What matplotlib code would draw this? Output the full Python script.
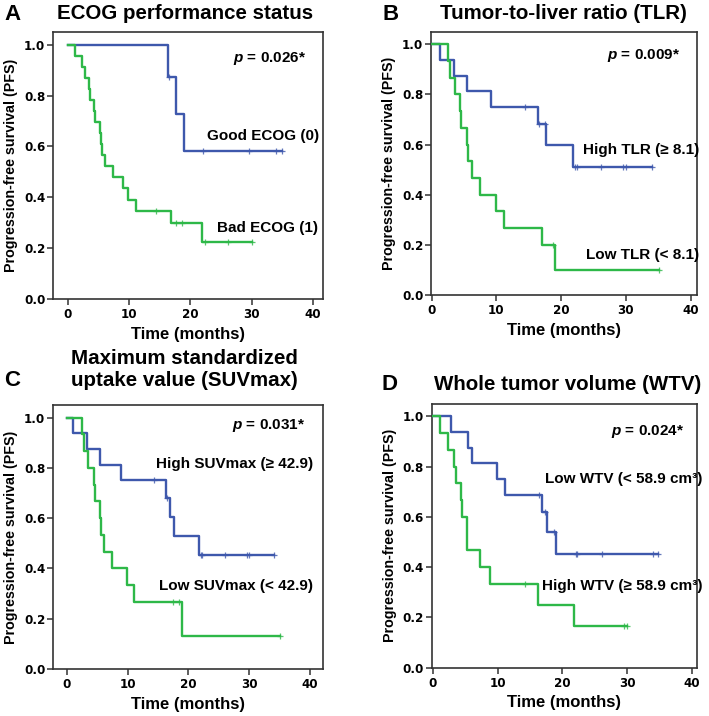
import matplotlib
matplotlib.use("Agg")
import matplotlib.pyplot as plt
import numpy as np

plt.rcParams['font.family'] = ['Liberation Sans', 'DejaVu Sans']
plt.rcParams['font.weight'] = 'bold'
plt.rcParams['mathtext.fontset'] = 'custom'
plt.rcParams['mathtext.bfit'] = 'Liberation Sans:bold:italic'

BLUE = '#3E58AC'
GREEN = '#2EB848'

# --- A: ECOG performance status ---
a_good_t = [16.4, 17.6, 19.0]
a_good_s = [0.875, 0.729, 0.583]
a_good_c = [16.5, 22.0, 29.6, 34.0, 34.85]
a_bad_t = [1.2, 2.4, 2.8, 3.4, 3.6, 4.35, 4.5, 5.26, 5.37, 5.53, 6.07, 7.43, 9.06, 9.77, 11.1, 16.9, 21.8]
a_bad_s = [0.957, 0.913, 0.870, 0.826, 0.783, 0.739, 0.696, 0.652, 0.609, 0.565,
           0.522, 0.478, 0.435, 0.391, 0.348, 0.298, 0.224]
a_bad_c = [14.4, 17.6, 18.6, 22.4, 26.1, 30.1]

# --- B: Tumor-to-liver ratio ---
b_high_t = [1.3, 3.5, 5.4, 9.1, 16.5, 17.65, 21.9]
b_high_s = [0.9375, 0.875, 0.8125, 0.75, 0.682, 0.597, 0.512]
b_high_c = [14.4, 16.6, 17.5, 22.2, 22.4, 26.1, 29.6, 30.0, 34.0]
b_low_t = [2.5, 2.9, 3.6, 4.4, 4.5, 5.4, 5.6, 6.2, 7.5, 9.9, 11.2, 17.0, 19.0]
b_low_s = [0.933, 0.867, 0.8, 0.733, 0.667, 0.6, 0.533, 0.467, 0.4, 0.333, 0.267, 0.2, 0.1]
b_low_c = [18.7, 35.1]

# --- C: SUVmax ---
c_high_t = [1.1, 3.4, 5.4, 9.0, 16.3, 17.0, 17.6, 21.8]
c_high_s = [0.9375, 0.875, 0.8125, 0.75, 0.682, 0.606, 0.530, 0.455]
c_high_c = [14.35, 16.5, 22.0, 22.25, 26.0, 29.6, 30.0, 34.1]
c_low_t = [2.5, 2.9, 3.55, 4.5, 4.65, 5.4, 5.6, 6.2, 7.4, 9.9, 11.1, 18.9]
c_low_s = [0.933, 0.867, 0.8, 0.733, 0.667, 0.6, 0.533, 0.467, 0.4, 0.333, 0.267, 0.133]
c_low_c = [17.5, 18.5, 35.0]

# --- D: Whole tumor volume ---
d_low_t = [2.8, 5.5, 6.0, 9.9, 11.2, 16.8, 17.6, 19.0]
d_low_s = [0.9375, 0.875, 0.8125, 0.75, 0.6875, 0.619, 0.541, 0.451]
d_low_c = [16.45, 17.3, 18.7, 22.05, 22.3, 26.1, 33.9, 34.8]
d_high_t = [1.2, 2.4, 3.3, 3.55, 4.35, 4.5, 5.25, 7.3, 8.9, 16.3, 21.8]
d_high_s = [0.933, 0.867, 0.8, 0.733, 0.667, 0.6, 0.467, 0.4, 0.333, 0.25, 0.167]
d_high_c = [14.3, 29.55, 29.9]


def km(ax, t, s, c, color):
    t = np.asarray(t); s = np.asarray(s); c = np.asarray(c)
    end = max(t.max(), c.max() if len(c) else 0)
    x = np.concatenate([[0], t, [end]])
    y = np.concatenate([[1.0], s, [s[-1]]])
    ax.step(x, y, where='post', color=color, lw=1.7, zorder=3)
    lev = np.concatenate([[1.0], s])
    cy = lev[np.searchsorted(t, c, side='right')]
    ax.plot(c, cy, ls='none', marker='+', ms=5, mew=0.9, color=color, alpha=0.8, zorder=4)


def style(ax, xlim):
    ax.set_xlim(*xlim)
    ax.set_ylim(0, 1.05)
    ax.set_xticks([0, 10, 20, 30, 40])
    ax.set_yticks([0.0, 0.2, 0.4, 0.6, 0.8, 1.0])
    ax.set_yticklabels(['0.0', '0.2', '0.4', '0.6', '0.8', '1.0'])
    for sp in ax.spines.values():
        sp.set_linewidth(1.2)
        sp.set_color('#333333')
    ax.tick_params(direction='out', length=4, width=1.1, color='#333333')
    ax.tick_params(axis='y', pad=1.5)
    ax.tick_params(axis='x', pad=2.5)
    for lab in ax.get_xticklabels() + ax.get_yticklabels():
        lab.set_fontfamily('DejaVu Sans')
        lab.set_fontweight('bold')
        lab.set_fontsize(8.6)
    ax.set_xlabel('Time (months)', fontsize=12, fontweight='bold', labelpad=4)
    ax.set_ylabel('Progression-free survival (PFS)', fontsize=10.3, fontweight='bold', labelpad=4)


def ptext(ax, x, y, val):
    ax.text(x, y, r'$\mathbfit{p}$ = ' + val + '*', ha='right', va='center',
            fontsize=11, fontweight='bold')


fig = plt.figure(figsize=(7.09, 7.16), dpi=100)
W, H = 709.0, 716.0


def axes_px(l, t, r, b):
    return fig.add_axes([l / W, 1 - b / H, (r - l) / W, (b - t) / H])


axA = axes_px(53, 32, 323, 299)
axB = axes_px(431, 31.7, 697, 295)
axC = axes_px(53, 405, 323, 669)
axD = axes_px(431.7, 403.7, 696.7, 667.7)

km(axA, a_good_t, a_good_s, a_good_c, BLUE)
km(axA, a_bad_t, a_bad_s, a_bad_c, GREEN)
km(axB, b_high_t, b_high_s, b_high_c, BLUE)
km(axB, b_low_t, b_low_s, b_low_c, GREEN)
km(axC, c_high_t, c_high_s, c_high_c, BLUE)
km(axC, c_low_t, c_low_s, c_low_c, GREEN)
km(axD, d_low_t, d_low_s, d_low_c, BLUE)
km(axD, d_high_t, d_high_s, d_high_c, GREEN)

style(axA, (-2.4, 41.6))
style(axB, (-0.1, 41.0))
style(axC, (-2.25, 42.1))
style(axD, (-0.15, 40.7))

ptext(axA, 38.8, 0.944, '0.026')
axA.text(40.9, 0.641, 'Good ECOG (0)', ha='right', va='center', fontsize=11, fontweight='bold')
axA.text(40.8, 0.28, 'Bad ECOG (1)', ha='right', va='center', fontsize=11, fontweight='bold')

ptext(axB, 38.4, 0.957, '0.009')
axB.text(41.4, 0.578, 'High TLR (≥ 8.1)', ha='right', va='center', fontsize=11, fontweight='bold')
axB.text(41.4, 0.16, 'Low TLR (< 8.1)', ha='right', va='center', fontsize=11, fontweight='bold')

ptext(axC, 39.1, 0.969, '0.031')
axC.text(40.4, 0.814, 'High SUVmax (≥ 42.9)', ha='right', va='center', fontsize=11, fontweight='bold')
axC.text(40.4, 0.331, 'Low SUVmax (< 42.9)', ha='right', va='center', fontsize=11, fontweight='bold')

ptext(axD, 38.7, 0.9375, '0.024')
axD.text(41.6, 0.749, 'Low WTV (< 58.9 cm³)', ha='right', va='center', fontsize=11, fontweight='bold')
axD.text(41.6, 0.325, 'High WTV (≥ 58.9 cm³)', ha='right', va='center', fontsize=11, fontweight='bold')

# panel titles and letters
fig.text(184.7 / W, 1 - 13.5 / H, 'ECOG performance status', ha='center', va='center', fontsize=14.8, fontweight='bold')
fig.text(563.5 / W, 1 - 13.5 / H, 'Tumor-to-liver ratio (TLR)', ha='center', va='center', fontsize=14.8, fontweight='bold')
fig.text(184.5 / W, 1 - 369.5 / H, 'Maximum standardized\nuptake value (SUVmax)', ha='center', va='center',
         fontsize=14.8, fontweight='bold', linespacing=1.2)
fig.text(567.5 / W, 1 - 384 / H, 'Whole tumor volume (WTV)', ha='center', va='center', fontsize=14.8, fontweight='bold')
fig.text(12.5 / W, 1 - 14.5 / H, 'A', ha='center', va='center', fontsize=16, fontweight='bold')
fig.text(390.5 / W, 1 - 14 / H, 'B', ha='center', va='center', fontsize=16, fontweight='bold')
fig.text(12.5 / W, 1 - 381 / H, 'C', ha='center', va='center', fontsize=16, fontweight='bold')
fig.text(389.5 / W, 1 - 384 / H, 'D', ha='center', va='center', fontsize=16, fontweight='bold')

fig.savefig('out.png', dpi=100)
